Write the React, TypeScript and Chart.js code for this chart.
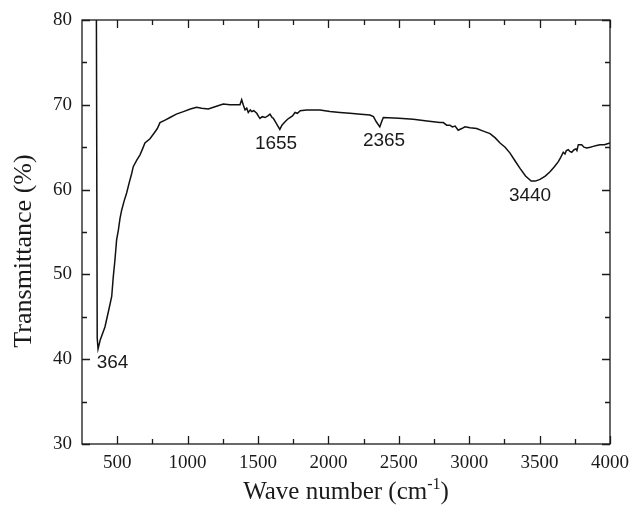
import React, { useEffect, useRef } from "react";
import { Chart, registerables } from "chart.js";

Chart.register(...registerables);

// FT-IR spectrum: wave number (cm-1) and transmittance (%)
const waveNumbers = [
  352, 356, 358, 364, 380, 413, 440, 461, 472, 484, 496, 508, 520, 532, 550, 567,
  585, 603, 614, 640, 662, 680, 697, 733, 768, 785, 804, 840, 875, 920, 970, 1020,
  1064, 1100, 1147, 1200, 1253, 1300, 1340, 1372, 1384, 1395, 1408, 1420, 1431,
  1445, 1455, 1470, 1491, 1505, 1514, 1530, 1550, 1570, 1585, 1600, 1609, 1630,
  1655, 1670, 1692, 1710, 1727, 1745, 1763, 1780, 1800, 1846, 1900, 1940, 2011,
  2082, 2153, 2230, 2295, 2320, 2340, 2365, 2380, 2390, 2500, 2603, 2700, 2792,
  2816, 2840, 2863, 2880, 2900, 2922, 2947, 2970, 3006, 3053, 3100, 3148, 3185,
  3219, 3255, 3290, 3325, 3361, 3400, 3440, 3470, 3503, 3540, 3574, 3605, 3633,
  3650, 3668, 3680, 3690, 3704, 3715, 3728, 3745, 3758, 3765, 3775, 3799, 3815,
  3834, 3860, 3881, 3905, 3929, 3960, 4000,
];
const transmittance = [
  82, 82, 42.5, 41.2, 42.3, 43.8, 45.8, 47.4, 49.7, 51.7, 54.1, 55.2, 56.6, 57.6,
  58.7, 59.6, 60.8, 61.9, 62.7, 63.5, 64.1, 64.8, 65.5, 66.0, 66.8, 67.2, 67.9,
  68.2, 68.5, 68.9, 69.2, 69.5, 69.7, 69.6, 69.5, 69.8, 70.1, 70.0, 70.0, 70.0,
  70.6, 70.0, 69.4, 69.6, 69.1, 69.4, 69.2, 69.3, 69.0, 68.6, 68.4, 68.6, 68.5,
  68.7, 68.9, 68.5, 68.4, 67.8, 67.1, 67.6, 68.0, 68.3, 68.5, 68.7, 69.1, 69.0,
  69.3, 69.4, 69.4, 69.4, 69.2, 69.1, 69.0, 68.9, 68.8, 68.6, 68.0, 67.4, 68.1,
  68.5, 68.4, 68.3, 68.1, 67.9, 67.9, 67.6, 67.6, 67.4, 67.5, 67.0, 67.2, 67.4,
  67.3, 67.2, 66.9, 66.6, 66.1, 65.5, 65.0, 64.3, 63.4, 62.5, 61.6, 61.0, 61.0,
  61.2, 61.6, 62.1, 62.7, 63.3, 63.8, 64.4, 64.2, 64.6, 64.7, 64.5, 64.4, 64.7,
  64.8, 64.6, 65.3, 65.3, 65.0, 64.9, 65.0, 65.1, 65.2, 65.3, 65.3, 65.5,
];

// Axis ticks
const xMajorTicks = [500, 1000, 1500, 2000, 2500, 3000, 3500, 4000];
const xMinorTicks = [750, 1250, 1750, 2250, 2750, 3250, 3750];
const yMajorTicks = [30, 40, 50, 60, 70, 80];
const yMinorTicks = [35, 45, 55, 65, 75];

// Peak annotations: text, anchor wave number, anchor transmittance (baseline)
const peakLabels = ["364", "1655", "2365", "3440"];
const peakLabelX = [467, 1628, 2395, 3432];
const peakLabelY = [38.96, 64.79, 65.14, 58.69];

const SERIF = '"Liberation Serif", "Times New Roman", serif';
const SANS = '"Liberation Sans", Arial, sans-serif';
const INK = "#1a1a1a";

const framePlugin = {
  id: "frameAndLabels",
  afterDraw(chart: any) {
    const { ctx, chartArea: a } = chart;
    const xs = chart.scales.x;
    const ys = chart.scales.y;
    ctx.save();
    ctx.strokeStyle = INK;
    ctx.lineWidth = 1.3;
    ctx.strokeRect(a.left, a.top, a.right - a.left, a.bottom - a.top);

    ctx.beginPath();
    const xTick = (v: number, len: number) => {
      const p = Math.round(xs.getPixelForValue(v)) + 0.5;
      ctx.moveTo(p, a.bottom);
      ctx.lineTo(p, a.bottom - len);
      ctx.moveTo(p, a.top);
      ctx.lineTo(p, a.top + len);
    };
    const yTick = (v: number, len: number) => {
      const p = Math.round(ys.getPixelForValue(v)) + 0.5;
      ctx.moveTo(a.left, p);
      ctx.lineTo(a.left + len, p);
      ctx.moveTo(a.right, p);
      ctx.lineTo(a.right - len, p);
    };
    xMajorTicks.forEach((v) => xTick(v, 8));
    xMinorTicks.forEach((v) => xTick(v, 5));
    yMajorTicks.forEach((v) => yTick(v, 8));
    yMinorTicks.forEach((v) => yTick(v, 5));
    ctx.stroke();

    // peak labels
    ctx.fillStyle = INK;
    ctx.font = `19px ${SANS}`;
    ctx.textAlign = "center";
    ctx.textBaseline = "alphabetic";
    peakLabels.forEach((t, i) => {
      ctx.fillText(t, xs.getPixelForValue(peakLabelX[i]), ys.getPixelForValue(peakLabelY[i]));
    });

    // x title with superscript
    const cx = (a.left + a.right) / 2;
    const base = 499;
    const mainFont = `25px ${SERIF}`;
    const supFont = `16px ${SERIF}`;
    const part1 = "Wave number (cm";
    const sup = "-1";
    const part2 = ")";
    ctx.font = mainFont;
    const w1 = ctx.measureText(part1).width;
    const w3 = ctx.measureText(part2).width;
    ctx.font = supFont;
    const w2 = ctx.measureText(sup).width;
    const x0 = cx - (w1 + w2 + w3) / 2;
    ctx.textAlign = "left";
    ctx.font = mainFont;
    ctx.fillText(part1, x0, base);
    ctx.font = supFont;
    ctx.fillText(sup, x0 + w1, base - 10);
    ctx.font = mainFont;
    ctx.fillText(part2, x0 + w1 + w2, base);

    // y title
    ctx.save();
    ctx.translate(31, 251);
    ctx.rotate(-Math.PI / 2);
    ctx.textAlign = "center";
    ctx.textBaseline = "alphabetic";
    ctx.font = `26px ${SERIF}`;
    ctx.fillText("Transmittance (%)", 0, 0);
    ctx.restore();

    ctx.restore();
  },
};

export default function App() {
  const canvasRef = useRef<HTMLCanvasElement>(null);

  useEffect(() => {
    const canvas = canvasRef.current;
    if (!canvas) return;
    const points = waveNumbers.map((w, i) => ({ x: w, y: transmittance[i] }));
    const chart = new Chart(canvas, {
      type: "line",
      data: {
        datasets: [
          {
            data: points,
            borderColor: "#111",
            borderWidth: 1.5,
            pointRadius: 0,
            tension: 0,
            fill: false,
          },
        ],
      },
      options: {
        animation: false,
        responsive: false,
        devicePixelRatio: 1,
        layout: { padding: { top: 20, right: 20, left: 0, bottom: 0 } },
        plugins: {
          legend: { display: false },
          tooltip: { enabled: false },
          title: { display: false },
        },
        scales: {
          x: {
            type: "linear",
            min: 250,
            max: 4000,
            grid: { display: false, drawTicks: false },
            border: { display: false },
            afterBuildTicks: (s: any) => {
              s.ticks = xMajorTicks.map((v) => ({ value: v }));
            },
            afterFit: (s: any) => {
              s.height = 65;
              s.paddingLeft = 0;
              s.paddingRight = 0;
            },
            ticks: {
              padding: 8,
              maxRotation: 0,
              autoSkip: false,
              color: INK,
              font: { family: SERIF, size: 19 },
              callback: (v: any) => String(v),
            },
          },
          y: {
            type: "linear",
            min: 30,
            max: 80,
            grid: { display: false, drawTicks: false },
            border: { display: false },
            afterBuildTicks: (s: any) => {
              s.ticks = yMajorTicks.map((v) => ({ value: v }));
            },
            afterFit: (s: any) => {
              s.width = 82;
              s.paddingTop = 0;
              s.paddingBottom = 0;
            },
            ticks: {
              padding: 10,
              color: INK,
              font: { family: SERIF, size: 19 },
              callback: (v: any) => String(v),
            },
          },
        },
      },
      plugins: [framePlugin],
    });
    return () => chart.destroy();
  }, []);

  return (
    <div style={{ position: "absolute", left: 0, top: 0, width: 630, height: 509, background: "#fff" }}>
      <canvas ref={canvasRef} width={630} height={509} />
    </div>
  );
}
